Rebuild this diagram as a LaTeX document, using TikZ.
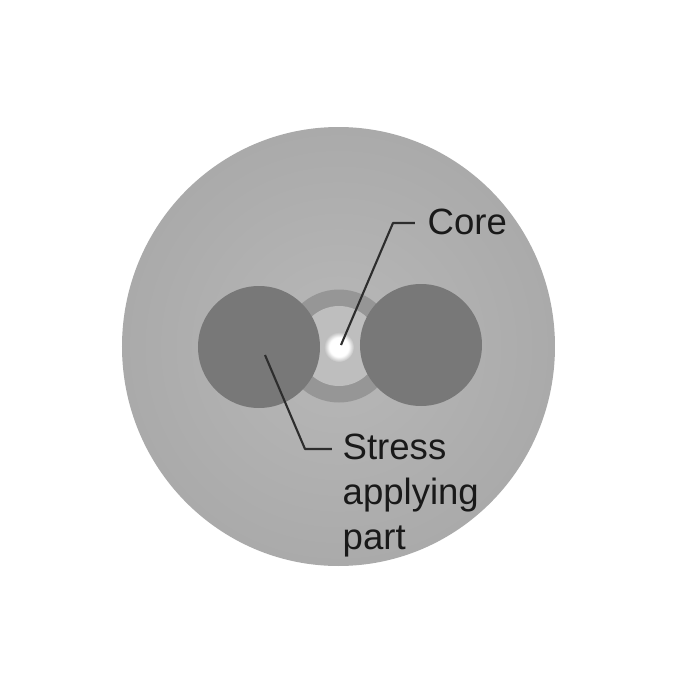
\documentclass[tikz,border=0pt]{standalone}
\usepackage{fontspec}
\setmainfont{Liberation Sans}
\usepackage{xcolor}
\usetikzlibrary{shapes.geometric}
\definecolor{fibergray}{RGB}{170, 170, 170}
\definecolor{fiberlight}{RGB}{184, 184, 184}
\definecolor{stressgray}{RGB}{120, 120, 120}
\definecolor{ringgray}{RGB}{150, 150, 150}
\definecolor{claddinggray}{RGB}{190, 190, 190}
\definecolor{leadgray}{RGB}{45, 45, 45}
\pgfdeclareradialshading{coreglow}{\pgfpoint{0bp}{0bp}}{
    color(0bp)=(white); color(16bp)=(white); color(25bp)=(claddinggray); color(50bp)=(claddinggray)}
\begin{document}
\begin{tikzpicture}[
    leadline/.style={leadgray, line width=0.6pt, line join=round},
    partlabel/.style={font=\fontsize{10.4}{12.8}\selectfont, inner sep=0pt, anchor=base west, text=black!90}
]
    \useasboundingbox (0,0) rectangle (7,7);
    \fill[white] (0,0) rectangle (7,7);

    % Fiber cross section
    \node[ellipse, minimum width=4.33cm, minimum height=4.39cm, inner sep=0pt, inner color=fiberlight, outer color=fibergray] (fiber) at (3.385,3.535) {};

    % Ring around the core
    \node[circle, minimum size=1.13cm, inner sep=0pt, fill=ringgray] (ring) at (3.39,3.54) {};
    \node[circle, minimum size=0.80cm, inner sep=0pt, fill=claddinggray] (cladding) at (3.39,3.54) {};
    \node[circle, minimum size=0.30cm, inner sep=0pt, shading=coreglow] (core) at (3.39,3.53) {};

    % Stress applying parts
    \node[circle, minimum size=1.22cm, inner sep=0pt, fill=stressgray] (stressleft) at (2.59,3.53) {};
    \node[circle, minimum size=1.22cm, inner sep=0pt, fill=stressgray] (stressright) at (4.21,3.55) {};

    % Labels
    \node[partlabel] (corelabel) at (4.27,4.66) {Core};
    \node[partlabel] (stresstext) at (3.42,2.41) {Stress};
    \node[partlabel] (applytext) at (3.42,1.96) {applying};
    \node[partlabel] (parttext) at (3.42,1.51) {part};

    % Lead lines
    \coordinate (coreend) at (3.41,3.55);
    \coordinate (corebend) at (3.93,4.77);
    \coordinate (coretip) at (4.15,4.77);
    \coordinate (stressend) at (2.65,3.45);
    \coordinate (stressbend) at (3.05,2.51);
    \coordinate (stresstip) at (3.32,2.51);
    \draw[leadline] (coreend) -- (corebend) -- (coretip);
    \draw[leadline] (stressend) -- (stressbend) -- (stresstip);
\end{tikzpicture}
\end{document}
